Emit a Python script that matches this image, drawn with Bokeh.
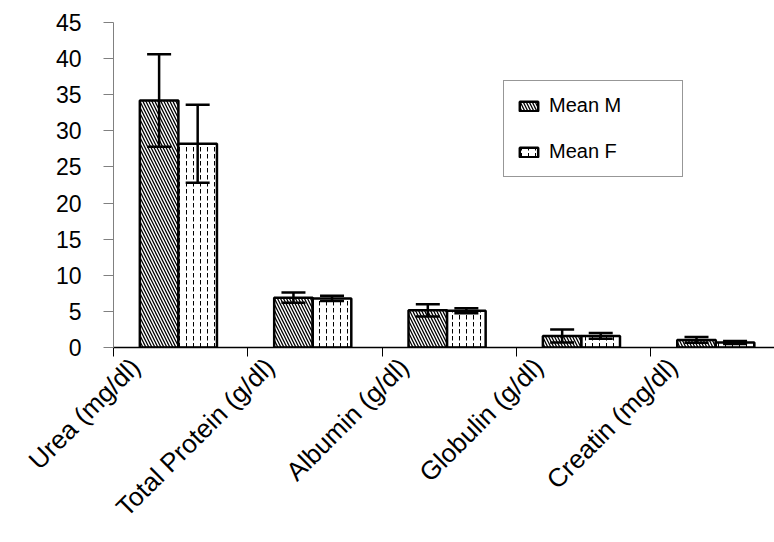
import math
from bokeh.plotting import figure
from bokeh.models import (ColumnDataSource, Range1d, FixedTicker, LinearAxis,
                          Whisker, TeeHead, Legend)
from bokeh.embed import file_html
from bokeh.resources import INLINE

categories = ["Urea (mg/dl)", "Total Protein (g/dl)", "Albumin (g/dl)",
              "Globulin (g/dl)", "Creatin (mg/dl)"]
mean_m = [34.2, 6.9, 5.15, 1.6, 1.05]
mean_f = [28.2, 6.8, 5.1, 1.6, 0.7]
err_m = [6.4, 0.7, 0.85, 0.9, 0.4]
err_f = [5.4, 0.35, 0.35, 0.4, 0.2]
y_ticks = [0, 5, 10, 15, 20, 25, 30, 35, 40, 45]

FONT = "Liberation Sans"
BW = 0.287
centers = [i + 0.5 - 0.017 for i in range(len(categories))]
xm = [c - BW / 2 for c in centers]
xf = [c + BW / 2 for c in centers]
label_pos = [round(c - 0.32, 4) for c in centers]
boundaries = list(range(len(categories)))

src_m = ColumnDataSource(dict(x=xm, top=mean_m,
                              upper=[v + e for v, e in zip(mean_m, err_m)],
                              lower=[v - e for v, e in zip(mean_m, err_m)]))
src_f = ColumnDataSource(dict(x=xf, top=mean_f,
                              upper=[v + e for v, e in zip(mean_f, err_f)],
                              lower=[v - e for v, e in zip(mean_f, err_f)]))

p = figure(width=774, height=542, output_backend="svg", toolbar_location=None,
           x_range=Range1d(0, 4.92), y_range=Range1d(0, 45),
           min_border_left=113, min_border_right=0, min_border_top=22,
           min_border_bottom=195)
p.outline_line_color = None
p.grid.visible = False
p.background_fill_color = "white"

rm = p.vbar(x="x", top="top", width=BW, source=src_m, fill_color="white",
            line_color="black", line_width=2.5, hatch_pattern="\\",
            hatch_color="black", hatch_scale=6, hatch_weight=1.3)
rf = p.vbar(x="x", top="top", width=BW, source=src_f, fill_color="white",
            line_color="black", line_width=2.5, hatch_pattern=":",
            hatch_color="black", hatch_scale=7, hatch_weight=1)

for s in (src_m, src_f):
    w = Whisker(base="x", upper="upper", lower="lower", source=s,
                line_color="black", line_width=2.5, level="annotation",
                upper_head=TeeHead(size=24, line_width=2.5, line_color="black"),
                lower_head=TeeHead(size=24, line_width=2.5, line_color="black"))
    p.add_layout(w)

# y axis
p.yaxis.ticker = FixedTicker(ticks=y_ticks)
p.yaxis.axis_line_color = "#808080"
p.yaxis.major_tick_line_color = "#808080"
p.yaxis.major_tick_out = 10
p.yaxis.major_tick_in = 0
p.yaxis.minor_tick_line_color = None
p.yaxis.major_label_text_font = FONT
p.yaxis.major_label_text_font_size = "23px"
p.yaxis.major_label_text_color = "black"
p.yaxis.major_label_standoff = 22

# x axis: ticks at category boundaries, no labels
p.xaxis.ticker = FixedTicker(ticks=boundaries)
p.xaxis.major_label_overrides = {b: "" for b in boundaries}
p.xaxis.axis_line_color = "black"
p.xaxis.axis_line_width = 1.5
p.xaxis.major_tick_line_color = "black"
p.xaxis.major_tick_out = 9
p.xaxis.major_tick_in = 0
p.xaxis.minor_tick_line_color = None
p.xaxis.major_label_standoff = 0

# category labels as a second, tickless axis below
lab_axis = LinearAxis(ticker=FixedTicker(ticks=label_pos),
                      major_label_overrides={pos: txt for pos, txt in zip(label_pos, categories)},
                      major_label_orientation=math.pi / 4,
                      major_label_text_font=FONT, major_label_text_font_size="26px",
                      major_label_text_color="black", major_label_standoff=0,
                      axis_line_color=None, major_tick_line_color=None,
                      minor_tick_line_color=None)
p.add_layout(lab_axis, "below")

legend = Legend(items=[("Mean M", [rm]), ("Mean F", [rf])], location=(390, 170),
                label_text_font=FONT, label_text_font_size="20px",
                label_text_color="black",
                glyph_width=23, glyph_height=12, label_height=20, label_width=120,
                label_standoff=9, spacing=23, padding=13, margin=0,
                border_line_color="#303030", border_line_width=1.5,
                background_fill_color="white")
p.add_layout(legend)

open("out.html", "w").write(file_html(p, INLINE))
